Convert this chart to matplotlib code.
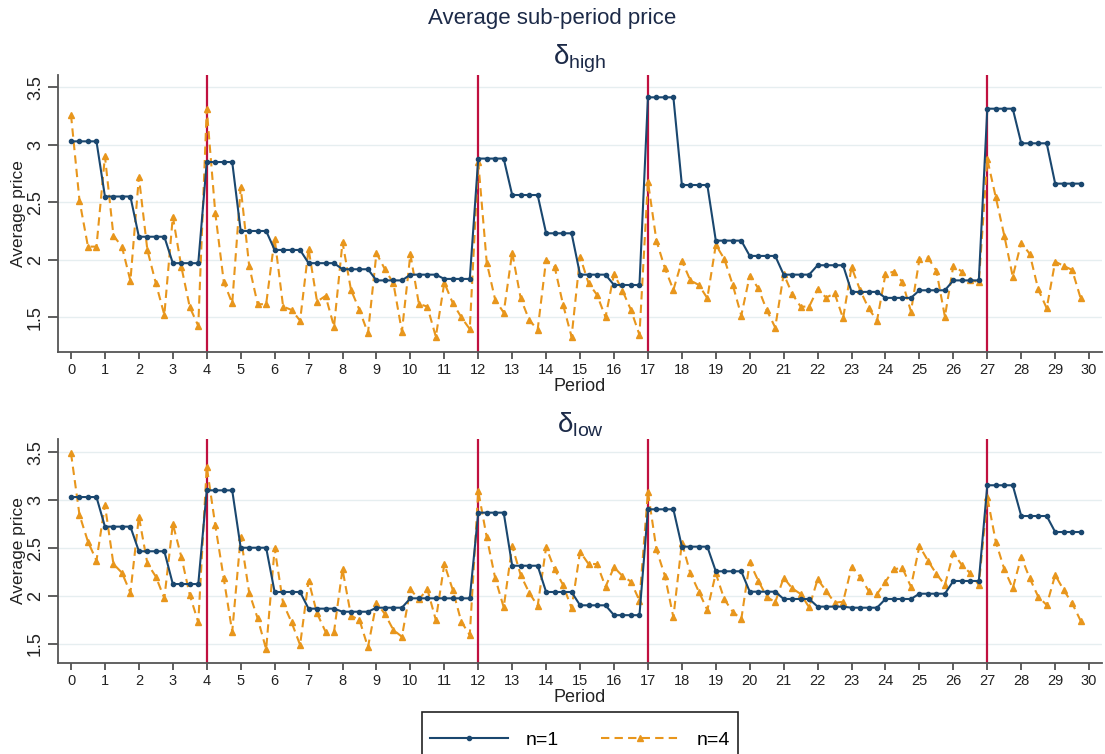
import matplotlib
matplotlib.use("Agg")
import matplotlib.pyplot as plt
from matplotlib.patches import Rectangle
import numpy as np

plt.rcParams['font.family'] = ['Liberation Sans', 'DejaVu Sans']
plt.rcParams['mathtext.fontset'] = 'custom'
plt.rcParams['mathtext.rm'] = 'Liberation Sans'
plt.rcParams['mathtext.it'] = 'Liberation Sans'

# sub-period positions: 4 sub-periods per period, periods 0..29
sub_x = [p + s / 4 for p in range(30) for s in range(4)]

# n=1: one value per period (constant across sub-periods)
high_n1_period = [3.03, 2.55, 2.20, 1.97, 2.85, 2.25, 2.085, 1.97, 1.917, 1.82,
                  1.87, 1.833, 2.88, 2.563, 2.23, 1.87, 1.78, 3.413, 2.65, 2.166,
                  2.033, 1.87, 1.952, 1.72, 1.668, 1.734, 1.82, 3.314, 3.013, 2.662]
low_n1_period = [3.033, 2.724, 2.467, 2.125, 3.103, 2.504, 2.042, 1.868, 1.836, 1.878,
                 1.976, 1.976, 2.87, 2.316, 2.042, 1.903, 1.80, 2.905, 2.515, 2.258,
                 2.045, 1.969, 1.889, 1.878, 1.969, 2.024, 2.157, 3.156, 2.835, 2.668]

# n=4: one value per sub-period
high_n4 = [3.26, 2.514, 2.114, 2.114, 2.90, 2.21, 2.114, 1.816,
           2.72, 2.085, 1.795, 1.52, 2.375, 1.94, 1.587, 1.424,
           3.31, 2.41, 1.81, 1.62, 2.63, 1.946, 1.613, 1.613,
           2.184, 1.592, 1.563, 1.47, 2.094, 1.636, 1.685, 1.418,
           2.152, 1.737, 1.563, 1.36, 2.057, 1.917, 1.795, 1.375,
           2.048, 1.616, 1.592, 1.33, 1.80, 1.622, 1.50, 1.396,
           2.853, 1.975, 1.65, 1.54, 2.062, 1.665, 1.476, 1.39,
           2.0, 1.94, 1.607, 1.33, 2.027, 1.795, 1.694, 1.50,
           1.876, 1.731, 1.563, 1.346, 2.68, 2.166, 1.926, 1.737,
           1.99, 1.82, 1.78, 1.665, 2.129, 2.007, 1.78, 1.514,
           1.862, 1.752, 1.563, 1.41, 1.876, 1.703, 1.592, 1.592,
           1.746, 1.67, 1.708, 1.49, 1.935, 1.737, 1.578, 1.47,
           1.876, 1.897, 1.804, 1.549, 2.004, 2.018, 1.903, 1.505,
           1.949, 1.897, 1.824, 1.804, 2.874, 2.543, 2.21, 1.853,
           2.149, 2.05, 1.743, 1.578, 1.984, 1.946, 1.911, 1.665]
low_n4 = [3.49, 2.846, 2.567, 2.369, 2.95, 2.334, 2.243, 2.035,
          2.828, 2.34, 2.202, 1.976, 2.752, 2.41, 2.01, 1.725,
          3.35, 2.741, 2.185, 1.627, 2.619, 2.035, 1.767, 1.444,
          2.498, 1.924, 1.725, 1.489, 2.16, 1.819, 1.627, 1.627,
          2.279, 1.794, 1.75, 1.465, 1.93, 1.812, 1.645, 1.575,
          2.07, 1.965, 2.07, 1.75, 2.334, 2.063, 1.732, 1.593,
          3.096, 2.613, 2.185, 1.882, 2.522, 2.219, 2.035, 1.896,
          2.508, 2.28, 2.115, 1.872, 2.463, 2.334, 2.334, 2.097,
          2.30, 2.209, 2.15, 1.951, 3.089, 2.487, 2.209, 1.778,
          2.556, 2.237, 2.045, 1.854, 2.237, 1.965, 1.836, 1.757,
          2.352, 2.16, 1.993, 1.934, 2.191, 2.08, 2.021, 1.882,
          2.174, 2.055, 1.93, 1.94, 2.30, 2.202, 2.055, 2.02,
          2.15, 2.282, 2.29, 2.097, 2.522, 2.369, 2.23, 2.115,
          2.446, 2.324, 2.237, 2.115, 3.03, 2.567, 2.28, 2.08,
          2.41, 2.185, 1.993, 1.906, 2.219, 2.063, 1.924, 1.742]

vlines = [4, 12, 17, 27]
x_ticks = list(range(0, 31))
y_ticks = [1.5, 2, 2.5, 3, 3.5]
panel_titles = [r'$\mathrm{\delta_{high}}$', r'$\mathrm{\delta_{low}}$']
legend_labels = ['n=1', 'n=4']

NAVY = '#1a476f'
ORANGE = '#e8961c'
RED = '#c0103f'
GRID = '#e6eef0'
TEXT = '#1c2a48'

W, H = 1105, 754
fig = plt.figure(figsize=(W / 100, H / 100), dpi=100)
ax_top = fig.add_axes([0.0525, 0.5336, 0.9448, 0.3669])
ax_bot = fig.add_axes([0.0525, 0.1211, 0.9448, 0.2963])

panels = [
    (ax_top, high_n1_period, high_n4, (1.20, 3.607), panel_titles[0]),
    (ax_bot, low_n1_period, low_n4, (1.304, 3.636), panel_titles[1]),
]

handles = None
for ax, n1p, n4, ylim, ttl in panels:
    n1 = [v for v in n1p for _ in range(4)]
    for y in y_ticks:
        ax.axhline(y, color=GRID, lw=1.0, zorder=0)
    for v in vlines:
        ax.axvline(v, color=RED, lw=1.6, zorder=1)
    l1, = ax.plot(sub_x, n1, color=NAVY, lw=1.5, marker='o', ms=3.0,
                  zorder=3, label=legend_labels[0])
    l4, = ax.plot(sub_x, n4, color=ORANGE, lw=1.5, ls=(0, (4, 2.5)),
                  marker='^', ms=4.5, zorder=2, label=legend_labels[1])
    handles = [l1, l4]
    ax.set_xlim(-0.383, 30.38)
    ax.set_ylim(*ylim)
    ax.set_xticks(x_ticks)
    ax.set_yticks(y_ticks)
    ax.set_yticklabels(['1.5', '2', '2.5', '3', '3.5'], rotation=90, va='center')
    ax.tick_params(axis='x', labelsize=10.5, length=5, width=1.1, color='#333333',
                   labelcolor='#222222', pad=3)
    ax.tick_params(axis='y', labelsize=13, length=7, width=1.1, color='#333333',
                   labelcolor='#222222', pad=3)
    for s in ['top', 'right']:
        ax.spines[s].set_visible(False)
    for s in ['left', 'bottom']:
        ax.spines[s].set_color('#555555')
        ax.spines[s].set_linewidth(1.3)
    ax.set_xlabel('Period', fontsize=13, color='#222222', labelpad=1)
    ax.set_ylabel('Average price', fontsize=12.5, color='#222222', labelpad=0)
    ax.yaxis.set_label_coords(-0.0307, 0.5)
    ax.set_title(ttl, fontsize=20, color=TEXT, pad=4)

fig.text(0.5, 0.976, 'Average sub-period price', ha='center', va='center',
         fontsize=16, color=TEXT)

# legend frame (box runs past the bottom edge of the image)
fig.patches.append(Rectangle((422 / W, -0.05), (738 - 422) / W, 0.05 + (754 - 712) / H,
                             transform=fig.transFigure, fill=False,
                             edgecolor='#222222', lw=1.2, zorder=5))
leg = fig.legend(handles, legend_labels, loc='center',
                 bbox_to_anchor=(580 / W, 1 - 740 / H), ncol=2, fontsize=14,
                 frameon=False,
                 handlelength=4.0, columnspacing=2.2, handletextpad=0.9,
                 borderpad=0.0, borderaxespad=0.0)

fig.savefig('out.png', dpi=100)
